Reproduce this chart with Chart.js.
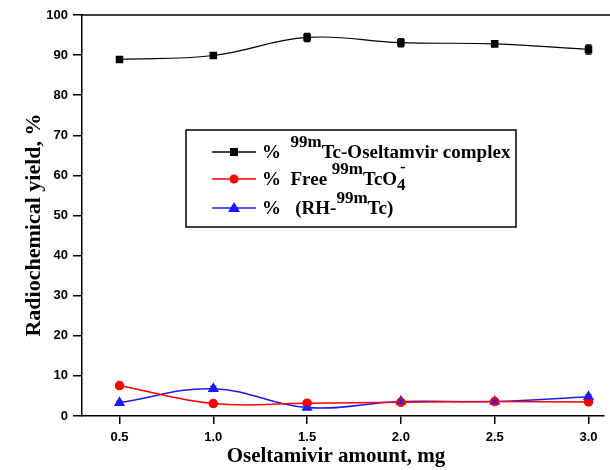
<!DOCTYPE html>
<html>
<head>
<meta charset="utf-8">
<script src="https://cdn.jsdelivr.net/npm/chart.js@4.4.0/dist/chart.umd.min.js"></script>
<style>
    html, body { margin: 0; padding: 0; background: #fff; }
    #wrap { width: 610px; height: 470px; }
</style>
</head>
<body>
<div id="wrap"><canvas id="yieldChart" width="610" height="470"></canvas></div>
<script>
// ---- data ----
const amounts = [0.5, 1.0, 1.5, 2.0, 2.5, 3.0];
const complexYield = [88.9, 89.9, 94.4, 93.1, 92.8, 91.4];
const complexErr = [0.4, 0.6, 1.0, 1.0, 0.6, 1.1];
const freeYield = [7.6, 3.1, 3.2, 3.4, 3.6, 3.5];
const freeErr = [0.6, 0.3, 0.3, 0.3, 0.3, 0.5];
const rhYield = [3.3, 6.8, 2.1, 3.6, 3.6, 4.8];
const rhErr = [0.4, 0.6, 0.3, 0.4, 0.3, 0.5];
const xTicks = [0.5, 1.0, 1.5, 2.0, 2.5, 3.0];
const xTitle = 'Oseltamivir amount, mg';
const yTitle = 'Radiochemical yield, %';

const SERIF = '"Liberation Serif", "Times New Roman", serif';
const SANS = '"Liberation Sans", Arial, sans-serif';

// error bars with caps
const errorBars = {
    id: 'errorBars',
    afterDatasetsDraw(chart) {
        const ctx = chart.ctx;
        const y = chart.scales.y;
        chart.data.datasets.forEach((ds, i) => {
            const meta = chart.getDatasetMeta(i);
            ctx.save();
            ctx.strokeStyle = ds.borderColor;
            ctx.lineWidth = 1.5;
            meta.data.forEach((pt, j) => {
                const e = ds.errors[j];
                const top = y.getPixelForValue(ds.data[j].y + e);
                const bot = y.getPixelForValue(ds.data[j].y - e);
                ctx.beginPath();
                ctx.moveTo(pt.x, top); ctx.lineTo(pt.x, bot);
                ctx.moveTo(pt.x - 3, top); ctx.lineTo(pt.x + 3, top);
                ctx.moveTo(pt.x - 3, bot); ctx.lineTo(pt.x + 3, bot);
                ctx.stroke();
            });
            ctx.restore();
        });
    }
};

// top frame line + axis titles (placed a bit off-centre like the original)
const frameAndTitles = {
    id: 'frameAndTitles',
    afterDraw(chart) {
        const { ctx, chartArea } = chart;
        ctx.save();
        ctx.strokeStyle = '#000';
        ctx.lineWidth = 1.5;
        ctx.beginPath();
        ctx.moveTo(chartArea.left, chartArea.top);
        ctx.lineTo(chart.width, chartArea.top);
        ctx.stroke();

        ctx.fillStyle = '#000';
        ctx.textAlign = 'center';
        ctx.textBaseline = 'middle';
        ctx.font = 'bold 21px ' + SERIF;
        ctx.fillText(xTitle, 336, 457);
        ctx.translate(34, 225);
        ctx.rotate(-Math.PI / 2);
        ctx.font = 'bold 22px ' + SERIF;
        ctx.fillText(yTitle, 0, 0);
        ctx.restore();
    }
};

// legend with super/subscripts
const legendRows = [
    [{ t: '%  ' }, { t: '99m', s: 'sup' }, { t: 'Tc-Oseltamvir complex' }],
    [{ t: '%  Free ' }, { t: '99m', s: 'sup' }, { t: 'TcO' }, { t: '4', s: 'sub' }, { t: '-', s: 'supAfter' }],
    [{ t: '%   (RH-' }, { t: '99m', s: 'sup' }, { t: 'Tc)' }]
];

function drawRich(ctx, x, y, parts) {
    let lastW = 0;
    parts.forEach(p => {
        if (p.s === 'sup') {
            ctx.font = 'bold 17px ' + SERIF;
            ctx.fillText(p.t, x, y - 11);
        } else if (p.s === 'sub') {
            ctx.font = 'bold 17px ' + SERIF;
            ctx.fillText(p.t, x, y + 5);
        } else if (p.s === 'supAfter') {
            ctx.font = 'bold 17px ' + SERIF;
            ctx.fillText(p.t, x - lastW + 3, y - 13);
            return;
        } else {
            ctx.font = 'bold 19px ' + SERIF;
            ctx.fillText(p.t, x, y);
        }
        lastW = ctx.measureText(p.t).width;
        x += lastW;
    });
}

const richLegend = {
    id: 'richLegend',
    afterDraw(chart) {
        const ctx = chart.ctx;
        ctx.save();
        ctx.fillStyle = '#fff';
        ctx.fillRect(186, 130, 330, 97);
        ctx.strokeStyle = '#000';
        ctx.lineWidth = 1.5;
        ctx.strokeRect(186, 130, 330, 97);
        const rowsY = [152, 179, 208];
        chart.data.datasets.forEach((ds, i) => {
            const yy = rowsY[i];
            ctx.strokeStyle = ds.borderColor;
            ctx.lineWidth = 1.5;
            ctx.beginPath();
            ctx.moveTo(212, yy); ctx.lineTo(256, yy);
            ctx.stroke();
            ctx.fillStyle = ds.borderColor;
            ctx.beginPath();
            if (ds.pointStyle === 'rect') {
                ctx.rect(230, yy - 4, 8, 8);
            } else if (ds.pointStyle === 'circle') {
                ctx.arc(234, yy, 4.5, 0, Math.PI * 2);
            } else {
                ctx.moveTo(234, yy - 6); ctx.lineTo(240, yy + 4); ctx.lineTo(228, yy + 4); ctx.closePath();
            }
            ctx.fill();
            ctx.fillStyle = '#000';
            ctx.textBaseline = 'alphabetic';
            drawRich(ctx, 262, yy + 6, legendRows[i]);
        });
        ctx.restore();
    }
};

const toPts = vals => vals.map((v, i) => ({ x: amounts[i], y: v }));

new Chart(document.getElementById('yieldChart'), {
    type: 'line',
    data: {
        datasets: [
            {
                label: '% 99mTc-Oseltamvir complex',
                data: toPts(complexYield),
                errors: complexErr,
                borderColor: '#000000',
                backgroundColor: '#000000',
                pointStyle: 'rect',
                pointRadius: 4.5,
                borderWidth: 1.2,
                tension: 0.4,
            },
            {
                label: '% Free 99mTcO4-',
                data: toPts(freeYield),
                errors: freeErr,
                borderColor: '#ff0000',
                backgroundColor: '#ff0000',
                pointStyle: 'circle',
                pointRadius: 4,
                borderWidth: 1.5,
                tension: 0.4,
            },
            {
                label: '% (RH-99mTc)',
                data: toPts(rhYield),
                errors: rhErr,
                borderColor: '#1a1aff',
                backgroundColor: '#1a1aff',
                pointStyle: 'triangle',
                pointRadius: 5,
                borderWidth: 1.5,
                tension: 0.4,
            }
        ]
    },
    options: {
        responsive: false,
        animation: false,
        layout: { padding: { top: 15, right: 0, left: 0, bottom: 0 } },
        plugins: {
            legend: { display: false },
            tooltip: { enabled: false }
        },
        scales: {
            x: {
                type: 'linear',
                min: 0.3,
                max: 3.08,
                afterBuildTicks: s => { s.ticks = xTicks.map(v => ({ value: v })); },
                afterFit: s => { s.height = 54; },
                grid: { display: true, drawOnChartArea: false, tickLength: 8, color: '#000', lineWidth: 1.5 },
                border: { color: '#000', width: 1.5 },
                ticks: {
                    color: '#000', padding: 6,
                    font: { family: SANS, weight: 'bold', size: 13 },
                    callback: v => v.toFixed(1)
                }
            },
            y: {
                min: 0,
                max: 100,
                afterFit: s => { s.width = 82; },
                grid: { display: true, drawOnChartArea: false, tickLength: 9, color: '#000', lineWidth: 1.5 },
                border: { color: '#000', width: 1.5 },
                ticks: {
                    stepSize: 10, color: '#000', padding: 5,
                    font: { family: SANS, weight: 'bold', size: 13 }
                }
            }
        }
    },
    plugins: [errorBars, frameAndTitles, richLegend]
});
</script>
</body>
</html>
